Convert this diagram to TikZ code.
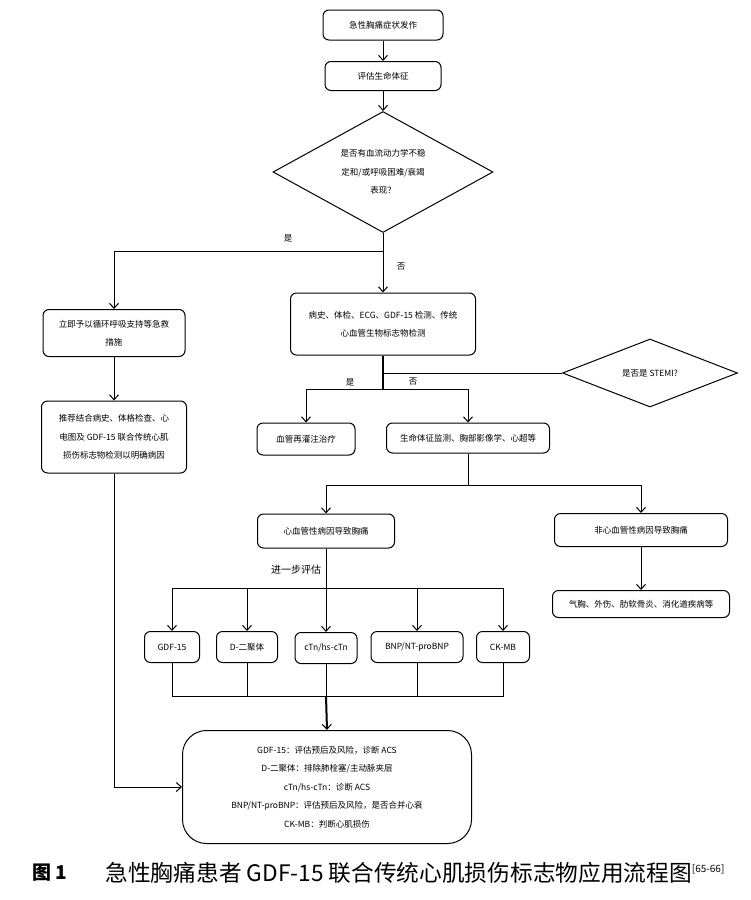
\documentclass[tikz,border=0pt]{standalone}
\usepackage{fontspec}
\setmainfont{Noto Sans CJK SC}
\usetikzlibrary{shapes.geometric,arrows.meta}
\newcommand{\boxfont}{\fontsize{8.5}{18.5}\selectfont}
\tikzset{
  flowbox/.style={draw, rounded corners=6pt, line width=1pt, align=center, inner sep=0pt, font=\boxfont},
  query/.style={draw, diamond, line width=1pt, align=center, inner sep=0pt, font=\boxfont},
  link/.style={line width=1pt},
  heavy/.style={line width=2pt},
  arr/.style={line width=1pt, -{Straight Barb[length=5pt,width=9pt,line width=1pt]}},
  tag/.style={font=\boxfont},
}
\begin{document}
\begin{tikzpicture}[x=1pt, y=-1pt]
    \useasboundingbox (0,0) rectangle (751,900);
    % top of the chart
    \node[flowbox, minimum width=120pt, minimum height=30pt] (onset) at (383,25) {急性胸痛症状发作};
    \node[flowbox, minimum width=116pt, minimum height=29pt] (vital) at (383,76) {评估生命体征};
    \node[query, aspect=2, minimum width=220pt, minimum height=121pt] (haemo) at (383,172)
        {是否有血流动力学不稳\\定和/或呼吸困难/衰竭\\表现？};
    \draw[arr] (onset) -- (vital);
    \draw[arr] (vital) -- (haemo);
    % left branch
    \node[flowbox, minimum width=142pt, minimum height=47pt] (rescue) at (114,333)
        {立即予以循环呼吸支持等急救\\措施};
    \node[flowbox, minimum width=145pt, minimum height=72pt] (workup) at (114,437)
        {推荐结合病史、体格检查、心\\电图及 GDF-15 联合传统心肌\\损伤标志物检测以明确病因};
    % right branch
    \node[flowbox, minimum width=185pt, minimum height=62pt] (history) at (383,324)
        {病史、体检、ECG、GDF-15 检测、传统\\心血管生物标志物检测};
    \coordinate (split) at (383,251);
    \draw[link] (haemo.south) -- (split);
    \draw[arr] (split) -| (rescue.north);
    \draw[arr] (split) -- (history.north);
    \node[tag] (yesA) at (288,238) {是};
    \node[tag] (noA) at (401,267) {否};
    \draw[arr] (rescue) -- (workup);
    % STEMI decision
    \node[query, aspect=2.5, minimum width=175pt, minimum height=68pt] (stemi) at (650,373) {是否是 STEMI?};
    \node[flowbox, minimum width=98pt, minimum height=32pt] (reperf) at (306,439) {血管再灌注治疗};
    \node[flowbox, minimum width=163pt, minimum height=30pt] (monitor) at (468,438) {生命体征监测、胸部影像学、心超等};
    \coordinate (stemijoin) at (383,373);
    \coordinate (stemisplit) at (383,389);
    \draw[heavy] (history.south) -- (stemisplit);
    \draw[link] (stemijoin) -- (stemi.west);
    \draw[arr] (stemisplit) -| (reperf.north);
    \draw[arr] (stemisplit) -| (monitor.north);
    \node[tag] (yesB) at (350,382) {是};
    \node[tag] (noB) at (413,382) {否};
    % causes
    \node[flowbox, minimum width=137pt, minimum height=34pt] (cardio) at (326,531) {心血管性病因导致胸痛};
    \node[flowbox, minimum width=173pt, minimum height=33pt] (noncardio) at (641,530) {非心血管性病因导致胸痛};
    \node[flowbox, minimum width=177pt, minimum height=27pt] (other) at (641,604) {气胸、外伤、肋软骨炎、消化道疾病等};
    \coordinate (causesplit) at (468,485);
    \draw[link] (monitor.south) -- (causesplit);
    \draw[arr] (causesplit) -| (cardio.north);
    \draw[arr] (causesplit) -| (noncardio.north);
    \draw[arr] (noncardio) -- (other);
    % markers
    \node[flowbox, minimum width=55pt, minimum height=31pt] (gdf) at (172,647) {GDF-15};
    \node[flowbox, minimum width=61pt, minimum height=31pt] (ddimer) at (247,647) {D-二聚体};
    \node[flowbox, minimum width=62pt, minimum height=31pt] (ctn) at (326,648) {cTn/hs-cTn};
    \node[flowbox, minimum width=92pt, minimum height=31pt] (bnp) at (417,647) {BNP/NT-proBNP};
    \node[flowbox, minimum width=53pt, minimum height=31pt] (ckmb) at (503,647) {CK-MB};
    \coordinate (markersplit) at (326,588);
    \coordinate (markerjoin) at (326,696);
    \draw[link] (cardio.south) -- (markersplit);
    \node[font=\fontsize{10}{12}\selectfont] (further) at (296,570) {进一步评估};
    \foreach \m in {gdf,ddimer,ctn,bnp,ckmb} {
        \draw[arr] (markersplit) -| (\m.north);
        \draw[link] (\m.south) |- (markerjoin);
    }
    % summary
    \node[flowbox, rounded corners=24pt, minimum width=289pt, minimum height=113pt] (summary) at (327,787)
        {GDF-15：评估预后及风险，诊断 ACS\\D-二聚体：排除肺栓塞/主动脉夹层\\cTn/hs-cTn：诊断 ACS\\BNP/NT-proBNP：评估预后及风险，是否合并心衰\\CK-MB：判断心肌损伤};
    \draw[arr, heavy] (markerjoin) -- (summary.north);
    \draw[arr] (workup.south) |- (summary.west);
    % caption
    \node[font=\fontsize{19}{19}\selectfont\bfseries] (fignum) at (50,873) {图 1};
    \node[anchor=west, font=\fontsize{22.7}{22.7}\selectfont] (caption) at (102,873)
        {急性胸痛患者 GDF-15 联合传统心肌损伤标志物应用流程图\raisebox{9pt}{\fontsize{10}{10}\selectfont [65-66]}};
\end{tikzpicture}
\end{document}
